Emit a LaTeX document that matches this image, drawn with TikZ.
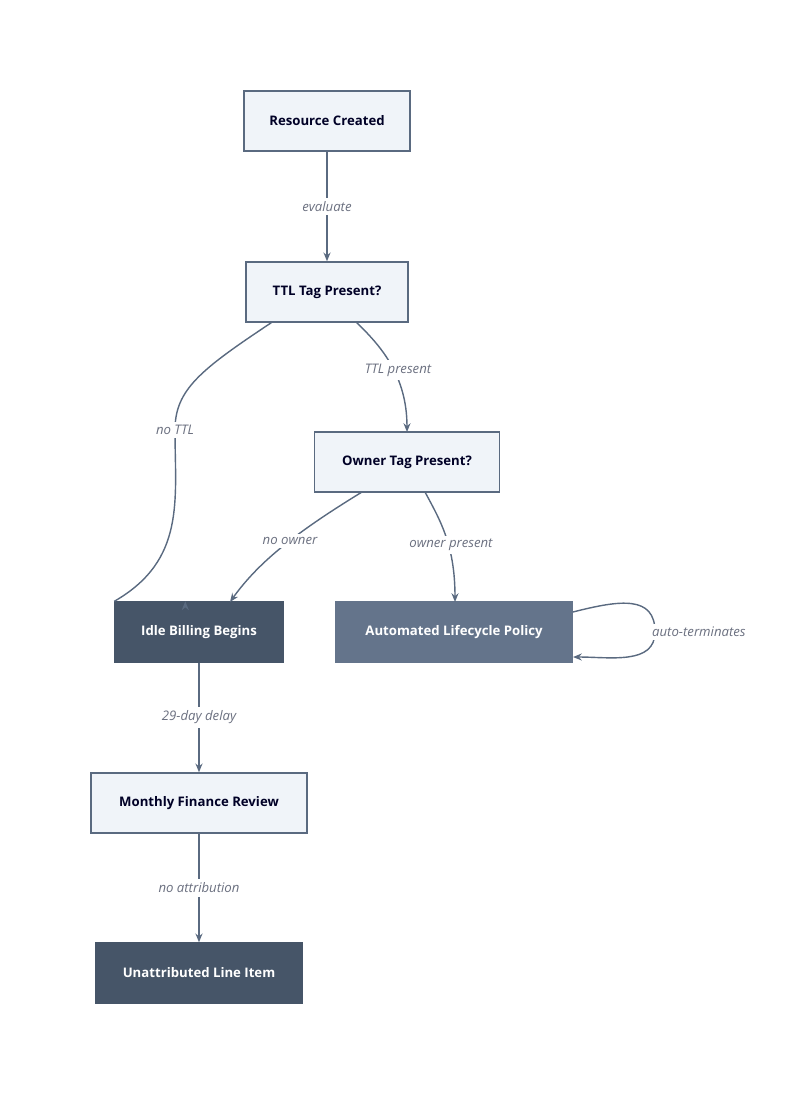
\documentclass[tikz,border=0pt]{standalone}
\usepackage{fontspec}
\setmainfont{Open Sans}
\usetikzlibrary{arrows.meta}
\definecolor{boxfill}{HTML}{F0F4F9}
\definecolor{boxline}{HTML}{5A6A80}
\definecolor{darkfill}{HTML}{465568}
\definecolor{midfill}{HTML}{64748B}
\definecolor{labelgray}{HTML}{6B7080}
\begin{document}
\begin{tikzpicture}[x=0.02cm,y=-0.02cm,>={Stealth[length=5pt,width=4pt]},font=\fontsize{7.5}{9}\selectfont]
\tikzset{
  flowbox/.style={rectangle,draw=boxline,fill=boxfill,line width=0.8pt,minimum height=1.2cm,font=\fontsize{7.5}{9}\selectfont\bfseries,text=black!85!blue},
  darkbox/.style={flowbox,draw=darkfill,fill=darkfill,text=white},
  midbox/.style={flowbox,draw=midfill,fill=midfill,text=white},
  edge/.style={->,draw=boxline,line width=0.8pt},
  elabel/.style={fill=white,inner sep=2pt,text=labelgray,font=\fontsize{7.5}{9}\selectfont\itshape}
}
\useasboundingbox (0,0) rectangle (800,1096);
\node[flowbox,minimum width=3.32cm](RC) at (327,121) {Resource Created};
\node[flowbox,minimum width=3.24cm](TTL) at (327,292) {TTL Tag Present?};
\node[flowbox,minimum width=3.7cm](OWN) at (407,462) {Owner Tag Present?};
\node[darkbox,minimum width=3.36cm](IDLE) at (199,632) {Idle Billing Begins};
\node[midbox,minimum width=4.74cm](AUTO) at (454,632) {Automated Lifecycle Policy};
\node[flowbox,minimum width=4.32cm](MFR) at (199,803) {Monthly Finance Review};
\node[darkbox,minimum width=4.14cm](UNA) at (199,973) {Unattributed Line Item};

\draw[edge] (RC) -- node[elabel]{evaluate} (TTL);
\draw[edge] (TTL.south west)++(26,0) .. controls (200,370) and (175,390) .. (175,430) node[elabel]{no TTL} .. controls (175,500) and (186,560) .. (IDLE.north west)++(71,0);
\draw[edge] (356,322) .. controls (380,345) and (407,375) .. (407,432);
\node[elabel] at (398,370) {TTL present};
\draw[edge] (362,492) .. controls (300,530) and (260,560) .. (230,602);
\node[elabel] at (290,541) {no owner};
\draw[edge] (425,492) .. controls (440,520) and (455,545) .. (455,602);
\node[elabel] at (451,545) {owner present};
\draw[edge] (573,612) .. controls (620,600) and (655,595) .. (655,632) node[elabel,right=-4pt]{auto-terminates} .. controls (655,665) and (610,657) .. (573,657);
\draw[edge] (IDLE) -- node[elabel]{29-day delay} (MFR);
\draw[edge] (MFR) -- node[elabel]{no attribution} (UNA);
\end{tikzpicture}
\end{document}
